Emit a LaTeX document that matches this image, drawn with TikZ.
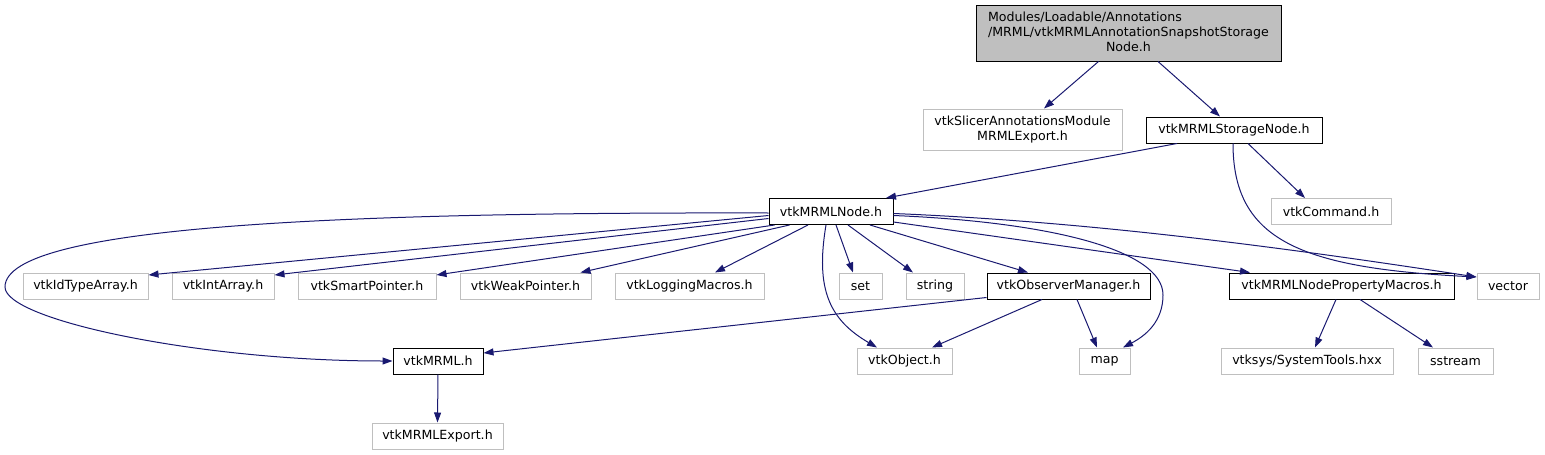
\documentclass[tikz,border=0pt]{standalone}
\usepackage{fontspec}
\setmainfont{DejaVu Sans}
\usetikzlibrary{arrows.meta}
\definecolor{edgeblue}{HTML}{191970}
\definecolor{boxgray}{HTML}{BFBFBF}

\begin{document}
\begin{tikzpicture}[x=1pt,y=-1pt,
  every node/.style={font=\fontsize{12.6}{15}\selectfont, inner sep=0pt, minimum height=26pt},
  sysbox/.style={draw=boxgray, line width=1pt, fill=white},
  projbox/.style={draw=black, line width=1pt, fill=white},
  rootbox/.style={draw=black, line width=1pt, fill=boxgray},
  dep/.style={draw=edgeblue, line width=1pt, -{Triangle[length=10pt,width=7pt]}}]
\path[use as bounding box] (0,0) rectangle (1545,455);

% top
\node[rootbox, minimum width=305pt, minimum height=56pt] (root) at (1128.5,33)
  {\begin{tabular}{@{}l@{}}Modules/Loadable/Annotations\\/MRML/vtkMRMLAnnotationSnapshotStorage\\\multicolumn{1}{@{}c@{}}{Node.h}\end{tabular}};
\node[sysbox, minimum width=199pt, minimum height=41pt, align=center] (slicerexp) at (1022.5,129.5)
  {vtkSlicerAnnotationsModule\\MRMLExport.h};
\node[projbox, minimum width=176pt] (storage) at (1234,130) {vtkMRMLStorageNode.h};

% second row
\node[projbox, minimum width=124pt] (mrmlnode) at (831,211.5) {vtkMRMLNode.h};
\node[sysbox, minimum width=120pt] (command) at (1331,211.5) {vtkCommand.h};

% third row
\node[sysbox, minimum width=125pt] (idtype) at (85.5,286) {vtkIdTypeArray.h};
\node[sysbox, minimum width=102pt] (intarray) at (223,286) {vtkIntArray.h};
\node[sysbox, minimum width=138pt] (smartptr) at (367,286) {vtkSmartPointer.h};
\node[sysbox, minimum width=131pt] (weakptr) at (525.5,286) {vtkWeakPointer.h};
\node[sysbox, minimum width=149pt] (logging) at (689.5,286) {vtkLoggingMacros.h};
\node[sysbox, minimum width=43pt] (set) at (860.5,286) {set};
\node[sysbox, minimum width=58pt] (string) at (935,286) {string};
\node[projbox, minimum width=163pt] (observer) at (1068.5,286) {vtkObserverManager.h};
\node[projbox, minimum width=225pt] (propmacros) at (1341.5,286) {vtkMRMLNodePropertyMacros.h};
\node[sysbox, minimum width=62pt] (vector) at (1508,286) {vector};

% fourth row
\node[projbox, minimum width=90pt] (mrml) at (438,361) {vtkMRML.h};
\node[sysbox, minimum width=95pt] (object) at (904.5,361) {vtkObject.h};
\node[sysbox, minimum width=51pt] (map) at (1104.5,361) {map};
\node[sysbox, minimum width=172pt] (systools) at (1307,361) {vtksys/SystemTools.hxx};
\node[sysbox, minimum width=75pt] (sstream) at (1455.5,361) {sstream};

% bottom
\node[sysbox, minimum width=131pt] (mrmlexport) at (437.5,436) {vtkMRMLExport.h};

% edges from the top file
\draw[dep] ([xshift=-30]root.south) -- ([xshift=21.5]slicerexp.north);
\draw[dep] ([xshift=29.5]root.south) -- ([xshift=-14]storage.north);

% edges from vtkMRMLStorageNode.h
\draw[dep] ([xshift=-57]storage.south) -- ([xshift=55]mrmlnode.north);
\draw[dep] ([xshift=14]storage.south) -- ([xshift=-26]command.north);
\draw[dep] ([xshift=-1]storage.south) .. controls (1233,240) and (1300,268) .. ([yshift=9]vector.west);

% edges from vtkMRMLNode.h
\draw[dep] ([yshift=-1.5]mrmlnode.west) .. controls (350,212) and (5,225) .. (5,287)
  .. controls (5,320) and (200,361) .. (mrml.west);
\draw[dep] ([yshift=-4]mrmlnode.west) -- ([yshift=11]idtype.east);
\draw[dep] ([yshift=-7]mrmlnode.west) -- ([yshift=11]intarray.east);
\draw[dep] ([xshift=6]mrmlnode.south west) -- ([yshift=11]smartptr.east);
\draw[dep] ([xshift=21]mrmlnode.south west) -- ([xshift=-11]weakptr.north east);
\draw[dep] ([xshift=-23]mrmlnode.south) -- ([xshift=25.5]logging.north);
\draw[dep] ([xshift=5]mrmlnode.south) -- ([xshift=-7.5]set.north);
\draw[dep] ([xshift=17]mrmlnode.south) -- ([xshift=-22]string.north);
\draw[dep] ([xshift=39]mrmlnode.south) -- ([xshift=-40.5]observer.north);
\draw[dep] ([xshift=-5]mrmlnode.south) .. controls (815,290) and (830,320) .. ([xshift=-27.5]object.north);
\draw[dep] ([yshift=-4]mrmlnode.east) .. controls (1050,222) and (1163,250) .. (1163,295)
  .. controls (1163,322) and (1145,336) .. ([xshift=18.5]map.north);
\draw[dep] ([yshift=-10.5]mrmlnode.east) -- ([xshift=-91.5]propmacros.north);
\draw[dep] ([yshift=-2]mrmlnode.east) .. controls (1100,222) and (1300,250) .. ([yshift=9]vector.west);

% edges from vtkObserverManager.h
\draw[dep] ([yshift=2]observer.south west) -- ([yshift=8]mrml.east);
\draw[dep] ([xshift=-26.5]observer.south) -- ([xshift=27.5]object.north);
\draw[dep] ([xshift=8.5]observer.south) -- ([xshift=-7.5]map.north);

% the rest
\draw[dep] (mrml.south) -- (mrmlexport.north);
\draw[dep] ([xshift=-5.5]propmacros.south) -- ([xshift=8]systools.north);
\draw[dep] ([xshift=18.5]propmacros.south) -- ([xshift=-22.5]sstream.north);
\end{tikzpicture}
\end{document}
